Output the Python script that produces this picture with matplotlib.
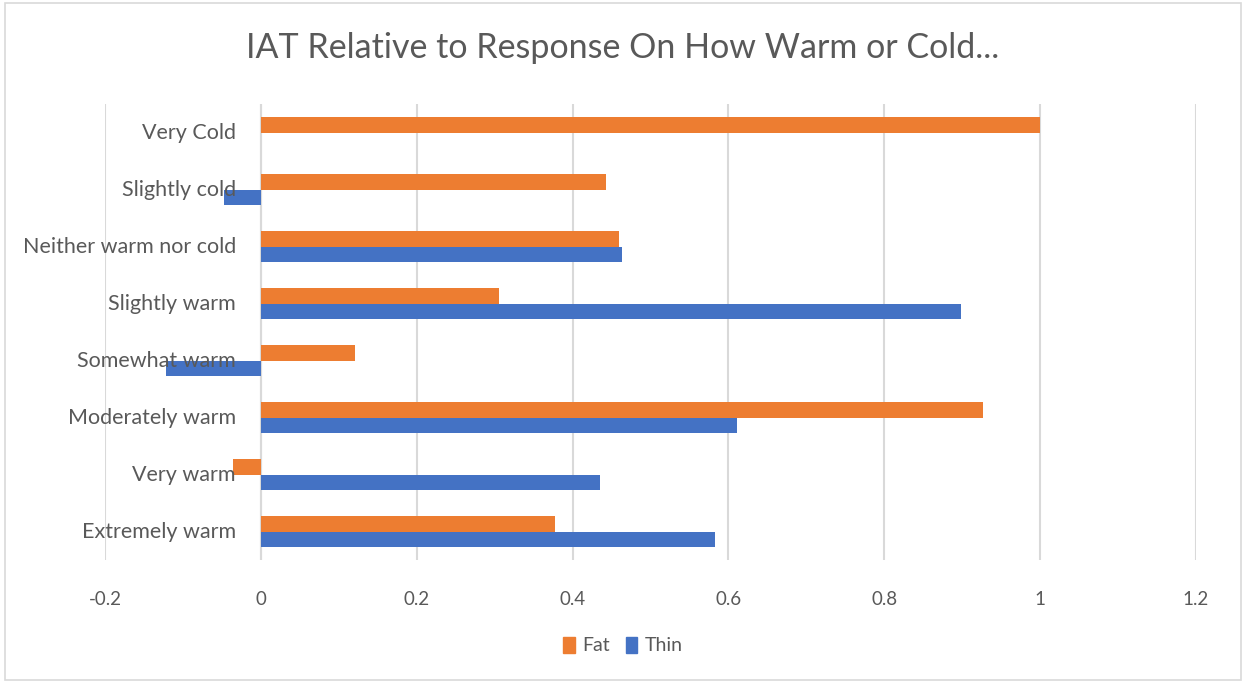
import numpy as np
import matplotlib
matplotlib.use("Agg")
import matplotlib.pyplot as plt
from matplotlib.patches import Rectangle, Patch

plt.rcParams['font.family'] = ['Lato', 'DejaVu Sans']

# 数据
categories = ['Very Cold', 'Slightly cold', 'Neither warm nor cold', 'Slightly warm',
              'Somewhat warm', 'Moderately warm', 'Very warm', 'Extremely warm']
fat = [1.0, 0.443, 0.460, 0.306, 0.121, 0.926, -0.036, 0.377]
thin = [0.0, -0.047, 0.463, 0.899, -0.122, 0.611, 0.435, 0.583]
xticks = [-0.2, 0, 0.2, 0.4, 0.6, 0.8, 1.0, 1.2]
xtick_labels = ['-0.2', '0', '0.2', '0.4', '0.6', '0.8', '1', '1.2']

orange = '#ED7D31'
blue = '#4472C4'
grey = '#595959'

fig = plt.figure(figsize=(12.46, 6.83), dpi=100)
ax = fig.add_axes([0.0843, 0.180, 0.8756, 0.6677])

y = np.arange(len(categories))
h = 0.265
ax.barh(y - h / 2, fat, height=h, color=orange, zorder=3)
ax.barh(y + h / 2, thin, height=h, color=blue, zorder=3)

ax.set_xlim(-0.2, 1.2)
ax.set_ylim(len(categories) - 0.5, -0.5)
ax.set_xticks(xticks)
ax.set_xticklabels(xtick_labels)
ax.set_yticks([])
ax.tick_params(axis='x', length=0, pad=22, labelsize=13.5, labelcolor=grey)

# 类别标签贴着 0 轴
for yi, name in zip(y, categories):
    ax.annotate(name, xy=(0, yi), xytext=(-18, 0), textcoords='offset points',
                ha='right', va='center', fontsize=15.5, color=grey, zorder=4)

ax.grid(axis='x', color='#d9d9d9', linewidth=1.5, zorder=0)
ax.axvline(0, color='#d9d9d9', linewidth=1.5, zorder=1)
for s in ax.spines.values():
    s.set_visible(False)

fig.text(0.5, 0.93, 'IAT Relative to Response On How Warm or Cold...',
         ha='center', va='center', fontsize=24.5, color=grey)

handles = [Patch(color=orange, label='Fat'), Patch(color=blue, label='Thin')]
fig.legend(handles=handles, loc='center', bbox_to_anchor=(0.5, 0.055), ncol=2,
           frameon=False, fontsize=14, labelcolor=grey, handlelength=0.6,
           handleheight=0.9, handletextpad=0.4, columnspacing=0.8)

# 外框
fig.patches.append(Rectangle((0.004, 0.004), 0.992, 0.992, transform=fig.transFigure,
                             fill=False, edgecolor='#d9d9d9', linewidth=1.2))

fig.savefig('out.png', dpi=100)
